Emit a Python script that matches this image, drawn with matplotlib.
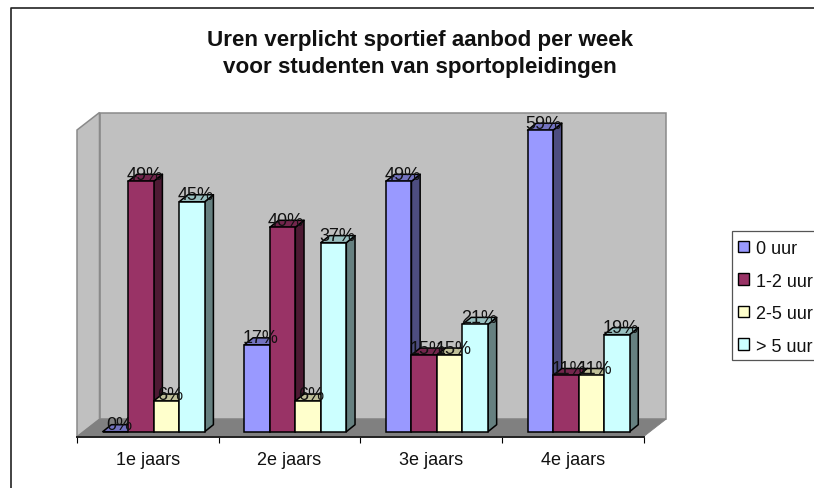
import matplotlib
matplotlib.use("Agg")
import matplotlib.pyplot as plt
from matplotlib.patches import Polygon, Patch, Rectangle
from matplotlib.lines import Line2D

plt.rcParams['font.family'] = ['Liberation Sans', 'DejaVu Sans']

categories = ['1e jaars', '2e jaars', '3e jaars', '4e jaars']
series_names = ['0 uur', '1-2 uur', '2-5 uur', '> 5 uur']
uur_0 = [0, 17, 49, 59]
uur_1_2 = [49, 40, 15, 11]
uur_2_5 = [6, 6, 15, 11]
uur_5_plus = [45, 37, 21, 19]
series_values = [uur_0, uur_1_2, uur_2_5, uur_5_plus]
front = ['#9999FF', '#993366', '#FFFFCC', '#CCFFFF']
top = ['#7373C0', '#73264D', '#C0C099', '#99C0C0']
side = ['#4D4D80', '#4D1A33', '#808066', '#668080']
title = 'Uren verplicht sportief aanbod per week\nvoor studenten van sportopleidingen'

W, H = 814, 489
FS = 13.0
fig = plt.figure(figsize=(W / 100, H / 100), dpi=100, facecolor='white')

# axes: front plane of the 3-D box, in pixels
L, R, T, B = 77.0, 643.5, 131.0, 437.7
ax = fig.add_axes([L / W, 1 - B / H, (R - L) / W, (B - T) / H])
PX_PER_PCT = 5.11
Y0_PIX = 432.7
ax.set_xlim(0, 4)
ax.set_ylim(-(B - Y0_PIX) / PX_PER_PCT, (Y0_PIX - T) / PX_PER_PCT)
ax.patch.set_alpha(0)
ux = 4 / (R - L)           # data units per pixel
uy = 1 / PX_PER_PCT
y_bot, y_top = ax.get_ylim()

# walls and floor
wx, wy = 22.5 * ux, 17.5 * uy
wall_edge = '#8A8A8A'
ax.add_patch(Polygon([(wx, y_bot + wy), (4 + wx, y_bot + wy), (4 + wx, y_top + wy), (wx, y_top + wy)],
                     closed=True, fc='#C0C0C0', ec=wall_edge, lw=1.1, clip_on=False, zorder=1))
ax.add_patch(Polygon([(0, y_bot), (wx, y_bot + wy), (wx, y_top + wy), (0, y_top)],
                     closed=True, fc='#C0C0C0', ec=wall_edge, lw=1.1, clip_on=False, zorder=1))
ax.add_patch(Polygon([(0, y_bot), (4, y_bot), (4 + wx, y_bot + wy), (wx, y_bot + wy)],
                     closed=True, fc='#808080', ec='#808080', lw=0.6, clip_on=False, zorder=1.5))

# bars
bw = 25.5 * ux
off = 25.7 * ux
dx, dy = 8.7 * ux, 7.0 * uy
z = 2.0
EW = 1.1
for i in range(len(categories)):
    for j, vals in enumerate(series_values):
        v = vals[i]
        x0 = i + off + j * bw
        x1 = x0 + bw
        z += 0.01
        ax.add_patch(Polygon([(x1, 0), (x1 + dx, dy), (x1 + dx, v + dy), (x1, v)], closed=True,
                             fc=side[j], ec='black', lw=EW, clip_on=False, zorder=z, joinstyle='round'))
        ax.add_patch(Polygon([(x0, v), (x1, v), (x1 + dx, v + dy), (x0 + dx, v + dy)], closed=True,
                             fc=top[j], ec='black', lw=EW, clip_on=False, zorder=z, joinstyle='round'))
        ax.bar(x0, v, width=bw, bottom=0, align='edge', color=front[j], edgecolor='black',
               linewidth=EW, zorder=z, clip_on=False)
for i in range(len(categories)):
    for j, vals in enumerate(series_values):
        v = vals[i]
        xc = i + off + (j + 0.5) * bw + 3.5 * ux
        ax.text(xc, v + 2.5 * uy, f'{v}%', ha='center', va='baseline', fontsize=FS,
                color='#111111', zorder=10, clip_on=False)

# axis
for s in ['left', 'right', 'top']:
    ax.spines[s].set_visible(False)
ax.spines['bottom'].set_linewidth(1.4)
ax.spines['bottom'].set_color('#222222')
ax.spines['bottom'].set_zorder(5)
ax.set_yticks([])
ax.set_xticks(range(5))
ax.set_xticklabels([])
ax.set_xticks([i + 0.5 for i in range(4)], minor=True)
ax.set_xticklabels(categories, minor=True, fontsize=FS, color='#111111')
ax.tick_params(axis='x', which='major', length=4, width=0.8, color='black')
ax.tick_params(axis='x', which='minor', length=0, pad=10)

# title
fig.text(420 / W, 1 - 54 / H, title, ha='center', va='center', fontsize=16.1, fontweight='bold',
         color='#111111', linespacing=1.34)

# outer frame (left and top edges only)
fig.add_artist(Line2D([11 / W, 11 / W, 1], [0, 1 - 9 / H, 1 - 9 / H], color='#222222', lw=1.2,
                      transform=fig.transFigure))

# legend frame (runs off the right edge of the picture) and legend
fig.add_artist(Rectangle((731.5 / W, 1 - 361 / H), 100 / W, 129 / H, transform=fig.transFigure,
                         fc='white', ec='#555555', lw=0.9))
handles = [Patch(fc=c, ec='black', lw=1.0) for c in front]
leg = fig.legend(handles, series_names, loc='upper left', bbox_to_anchor=(738 / W, 1 - 241 / H),
                 bbox_transform=fig.transFigure, fontsize=FS, frameon=False,
                 borderaxespad=0, borderpad=0, handlelength=0.61, handleheight=0.61,
                 handletextpad=0.39, labelspacing=0.86, labelcolor='#111111')

fig.savefig('out.png', dpi=100)
